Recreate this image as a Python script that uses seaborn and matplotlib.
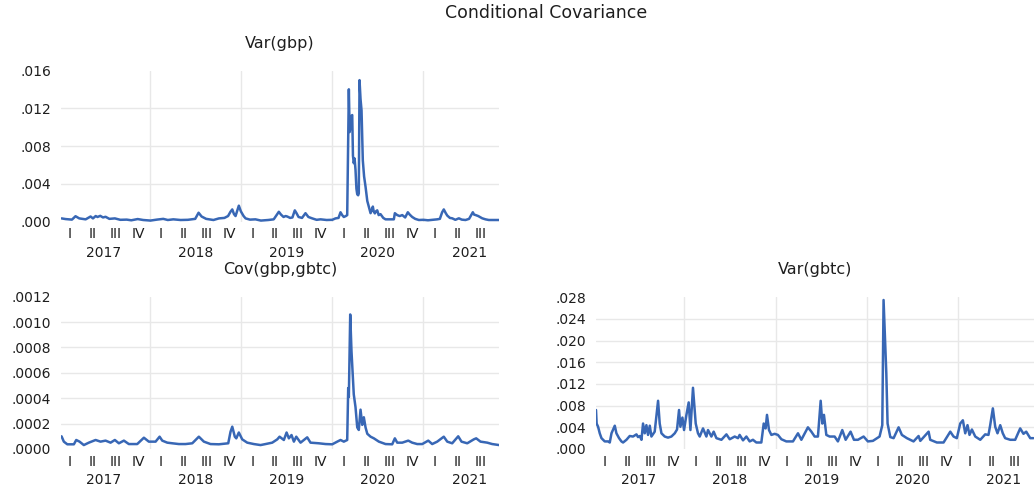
import matplotlib
matplotlib.use("Agg")
import matplotlib.pyplot as plt
import pandas as pd
import seaborn as sns

# ---------------- data ----------------
gbp_t = [2017.036, 2017.08, 2017.15, 2017.189, 2017.23, 2017.30, 2017.354, 2017.38, 2017.41, 2017.43,
         2017.46, 2017.49, 2017.518, 2017.56, 2017.62, 2017.68, 2017.75, 2017.80, 2017.87, 2017.93,
         2018.01, 2018.08, 2018.15, 2018.20, 2018.26, 2018.34, 2018.42, 2018.50, 2018.537, 2018.57,
         2018.62, 2018.70, 2018.76, 2018.82, 2018.86, 2018.887, 2018.906, 2018.925, 2018.942, 2018.978,
         2019.00, 2019.03, 2019.052, 2019.10, 2019.16, 2019.22, 2019.30, 2019.36, 2019.416, 2019.44,
         2019.468, 2019.49, 2019.508, 2019.54, 2019.565, 2019.591, 2019.61, 2019.632, 2019.67, 2019.708,
         2019.74, 2019.782, 2019.83, 2019.873, 2019.94, 2020.001, 2020.037, 2020.07, 2020.092, 2020.11,
         2020.128, 2020.15, 2020.165, 2020.183, 2020.192, 2020.201, 2020.210, 2020.220, 2020.228, 2020.237,
         2020.246, 2020.256, 2020.266, 2020.275, 2020.285, 2020.292, 2020.300, 2020.311, 2020.322, 2020.336,
         2020.350, 2020.366, 2020.385, 2020.402, 2020.421, 2020.435, 2020.446, 2020.455, 2020.468, 2020.480,
         2020.494, 2020.510, 2020.530, 2020.560, 2020.585, 2020.64, 2020.676, 2020.687, 2020.713, 2020.74,
         2020.768, 2020.80, 2020.829, 2020.85, 2020.877, 2020.91, 2020.950, 2021.00, 2021.05, 2021.10,
         2021.151, 2021.18, 2021.205, 2021.223, 2021.245, 2021.261, 2021.29, 2021.315, 2021.35, 2021.388,
         2021.42, 2021.461, 2021.50, 2021.541, 2021.555, 2021.570, 2021.60, 2021.644, 2021.68, 2021.716,
         2021.77, 2021.829]
gbp_v = [0.00035, 0.00028, 0.00022, 0.00058, 0.00035, 0.00025, 0.00055, 0.00035, 0.00060, 0.00050,
         0.00062, 0.00045, 0.00052, 0.00030, 0.00035, 0.00020, 0.00022, 0.00015, 0.00028, 0.00018,
         0.00012, 0.00022, 0.00030, 0.00018, 0.00025, 0.00018, 0.00020, 0.00030, 0.00095, 0.00055,
         0.00030, 0.00018, 0.00035, 0.00040, 0.00060, 0.00106, 0.00130, 0.00080, 0.00060, 0.00170,
         0.00110, 0.00060, 0.00035, 0.00022, 0.00025, 0.00012, 0.00018, 0.00025, 0.00105, 0.00075,
         0.00050, 0.00060, 0.00055, 0.00040, 0.00045, 0.00120, 0.00090, 0.00050, 0.00040, 0.00090,
         0.00050, 0.00035, 0.00020, 0.00025, 0.00018, 0.00020, 0.00035, 0.00040, 0.00100, 0.00070,
         0.00050, 0.00060, 0.00070, 0.01403, 0.00950, 0.01010, 0.01120, 0.01130, 0.00700, 0.00620,
         0.00670, 0.00550, 0.00350, 0.00290, 0.00280, 0.00300, 0.01500, 0.01300, 0.01180, 0.00650,
         0.00480, 0.00370, 0.00220, 0.00160, 0.00090, 0.00130, 0.00160, 0.00110, 0.00088, 0.00110,
         0.00120, 0.00070, 0.00080, 0.00040, 0.00025, 0.00025, 0.00025, 0.00090, 0.00070, 0.00060,
         0.00070, 0.00045, 0.00100, 0.00075, 0.00050, 0.00030, 0.00018, 0.00020, 0.00015, 0.00020,
         0.00025, 0.00030, 0.00100, 0.00130, 0.00090, 0.00065, 0.00040, 0.00036, 0.00020, 0.00036,
         0.00022, 0.00018, 0.00030, 0.00100, 0.00075, 0.00071, 0.00060, 0.00036, 0.00025, 0.00018,
         0.00018, 0.00018]

cov_t = [2017.036, 2017.061, 2017.099, 2017.171, 2017.197, 2017.233, 2017.280, 2017.335, 2017.409, 2017.463,
         2017.518, 2017.573, 2017.620, 2017.664, 2017.719, 2017.773, 2017.865, 2017.938, 2017.992, 2018.066,
         2018.110, 2018.139, 2018.194, 2018.249, 2018.321, 2018.394, 2018.468, 2018.540, 2018.595, 2018.668,
         2018.759, 2018.862, 2018.887, 2018.906, 2018.934, 2018.950, 2018.978, 2019.015, 2019.070, 2019.142,
         2019.216, 2019.271, 2019.344, 2019.399, 2019.424, 2019.471, 2019.501, 2019.526, 2019.555, 2019.581,
         2019.607, 2019.654, 2019.727, 2019.763, 2019.854, 2019.928, 2020.001, 2020.056, 2020.092, 2020.128,
         2020.165, 2020.176, 2020.183, 2020.198, 2020.212, 2020.237, 2020.256, 2020.275, 2020.292, 2020.311,
         2020.330, 2020.347, 2020.366, 2020.385, 2020.421, 2020.457, 2020.512, 2020.585, 2020.658, 2020.687,
         2020.713, 2020.768, 2020.834, 2020.877, 2020.932, 2020.987, 2021.053, 2021.096, 2021.151, 2021.223,
         2021.261, 2021.315, 2021.381, 2021.417, 2021.480, 2021.552, 2021.578, 2021.625, 2021.699, 2021.753,
         2021.829]
cov_v = [0.000100, 0.000058, 0.000037, 0.000037, 0.000071, 0.000058, 0.000031, 0.000050, 0.000071, 0.000058,
         0.000066, 0.000050, 0.000071, 0.000045, 0.000066, 0.000039, 0.000039, 0.000089, 0.000058, 0.000058,
         0.000097, 0.000066, 0.000050, 0.000045, 0.000039, 0.000039, 0.000045, 0.000097, 0.000058, 0.000039,
         0.000037, 0.000045, 0.000136, 0.000176, 0.000097, 0.000084, 0.000130, 0.000076, 0.000050, 0.000039,
         0.000031, 0.000039, 0.000050, 0.000076, 0.000097, 0.000071, 0.000130, 0.000084, 0.000110, 0.000058,
         0.000097, 0.000050, 0.000092, 0.000050, 0.000045, 0.000039, 0.000037, 0.000058, 0.000071, 0.000058,
         0.000071, 0.000480, 0.000410, 0.001060, 0.000770, 0.000430, 0.000330, 0.000170, 0.000150, 0.000310,
         0.000190, 0.000250, 0.000170, 0.000120, 0.000097, 0.000084, 0.000058, 0.000039, 0.000037, 0.000084,
         0.000050, 0.000050, 0.000066, 0.000050, 0.000039, 0.000039, 0.000066, 0.000039, 0.000058, 0.000097,
         0.000058, 0.000045, 0.000100, 0.000058, 0.000045, 0.000076, 0.000084, 0.000058, 0.000050, 0.000039,
         0.000031]

gbtc_t = [2017.030, 2017.037, 2017.053, 2017.071, 2017.090, 2017.126, 2017.162, 2017.181, 2017.200, 2017.236,
          2017.254, 2017.283, 2017.309, 2017.327, 2017.364, 2017.400, 2017.436, 2017.474, 2017.491, 2017.510,
          2017.529, 2017.546, 2017.565, 2017.583, 2017.601, 2017.620, 2017.638, 2017.674, 2017.711, 2017.729,
          2017.748, 2017.784, 2017.820, 2017.857, 2017.894, 2017.919, 2017.941, 2017.956, 2017.978, 2017.996,
          2018.022, 2018.047, 2018.066, 2018.094, 2018.124, 2018.149, 2018.168, 2018.204, 2018.241, 2018.259,
          2018.296, 2018.321, 2018.351, 2018.406, 2018.461, 2018.497, 2018.552, 2018.588, 2018.606, 2018.643,
          2018.680, 2018.716, 2018.752, 2018.789, 2018.844, 2018.870, 2018.891, 2018.906, 2018.928, 2018.954,
          2018.990, 2019.026, 2019.064, 2019.118, 2019.191, 2019.246, 2019.283, 2019.355, 2019.393, 2019.429,
          2019.465, 2019.495, 2019.513, 2019.531, 2019.557, 2019.593, 2019.648, 2019.684, 2019.732, 2019.769,
          2019.823, 2019.860, 2019.904, 2019.966, 2020.013, 2020.068, 2020.141, 2020.171, 2020.185, 2020.215,
          2020.229, 2020.259, 2020.295, 2020.350, 2020.386, 2020.441, 2020.514, 2020.569, 2020.588, 2020.679,
          2020.697, 2020.770, 2020.843, 2020.917, 2020.953, 2020.989, 2021.026, 2021.055, 2021.081, 2021.106,
          2021.128, 2021.154, 2021.191, 2021.246, 2021.300, 2021.336, 2021.355, 2021.384, 2021.410, 2021.435,
          2021.465, 2021.493, 2021.519, 2021.575, 2021.629, 2021.684, 2021.720, 2021.750, 2021.794, 2021.829]
gbtc_v = [0.0072, 0.0047, 0.0041, 0.0029, 0.0020, 0.0014, 0.0014, 0.0012, 0.0029, 0.0043,
          0.0029, 0.0020, 0.0014, 0.0012, 0.0017, 0.0024, 0.0023, 0.0027, 0.0022, 0.0024,
          0.0017, 0.0047, 0.0029, 0.0044, 0.0026, 0.0043, 0.0023, 0.0032, 0.0089, 0.0047,
          0.0029, 0.0023, 0.0021, 0.0023, 0.0029, 0.0036, 0.0072, 0.0041, 0.0058, 0.0035,
          0.0063, 0.0086, 0.0035, 0.0113, 0.0047, 0.0029, 0.0023, 0.0038, 0.0023, 0.0035,
          0.0023, 0.0032, 0.0020, 0.0017, 0.0027, 0.0018, 0.0023, 0.0020, 0.0026, 0.0016,
          0.0023, 0.0014, 0.0017, 0.0012, 0.0012, 0.0047, 0.0038, 0.0063, 0.0035, 0.0026,
          0.0028, 0.0026, 0.0018, 0.0014, 0.0014, 0.0029, 0.0017, 0.0040, 0.0032, 0.0023,
          0.0023, 0.0089, 0.0047, 0.0063, 0.0026, 0.0023, 0.0023, 0.0014, 0.0035, 0.0017,
          0.0032, 0.0017, 0.0017, 0.0023, 0.0014, 0.0015, 0.0023, 0.0044, 0.0275, 0.0140,
          0.0047, 0.0022, 0.0020, 0.0040, 0.0026, 0.0020, 0.0014, 0.0024, 0.0015, 0.0032,
          0.0017, 0.0012, 0.0012, 0.0032, 0.0023, 0.0020, 0.0047, 0.0053, 0.0029, 0.0044,
          0.0026, 0.0036, 0.0023, 0.0017, 0.0027, 0.0026, 0.0044, 0.0075, 0.0041, 0.0029,
          0.0044, 0.0029, 0.0020, 0.0017, 0.0017, 0.0038, 0.0028, 0.0032, 0.0020, 0.0020]

gbp_yticks = [0.000, 0.004, 0.008, 0.012, 0.016]
cov_yticks = [0.0000, 0.0002, 0.0004, 0.0006, 0.0008, 0.0010, 0.0012]
gbtc_yticks = [0.000, 0.004, 0.008, 0.012, 0.016, 0.020, 0.024, 0.028]
years = [2017, 2018, 2019, 2020, 2021]
quarters = ["I", "II", "III", "IV"]
titles = ["Var(gbp)", "Cov(gbp,gbtc)", "Var(gbtc)"]
suptitle = "Conditional Covariance"
x_start, x_end = 2017.03, 2021.83

# ---------------- style ----------------
sns.set_style("white")
plt.rcParams["font.family"] = ["DejaVu Sans"]
LINE = "#3867b5"
GRID = "#e8e8e8"
TXT = "#1e1e1e"
W, H = 1034, 488

fig = plt.figure(figsize=(W / 100, H / 100), dpi=100)
fig.patch.set_facecolor("white")


def px_rect(left, right, top, bottom):
    return [left / W, 1 - bottom / H, (right - left) / W, (bottom - top) / H]


def panel(rect_px, t, v, yticks, decimals, title):
    left, right, top, bottom = rect_px
    ax = fig.add_axes(px_rect(left, right, top, bottom))
    df = pd.DataFrame({"t": t, "v": v})
    sns.lineplot(data=df, x="t", y="v", ax=ax, color=LINE, linewidth=1.8, zorder=3)
    ax.set_xlim(x_start, x_end)
    ax.set_ylim(yticks[0], yticks[-1])
    ax.set_yticks(yticks)
    ax.set_yticklabels([("{:.%df}" % decimals).format(y).lstrip("0") for y in yticks])
    ax.set_xticks([])
    ax.set_xlabel("")
    ax.set_ylabel("")
    ax.tick_params(axis="y", length=0, labelsize=10, pad=7, colors=TXT)
    for s in ax.spines.values():
        s.set_visible(False)
    for yv in yticks[1:-1]:
        ax.axhline(yv, color=GRID, linewidth=1.0, zorder=1)
    for yr in years:
        if x_start < yr < x_end:
            ax.axvline(yr, color=GRID, linewidth=1.0, zorder=1)
    for yr in years:
        for qi, q in enumerate(quarters):
            xq = yr + (qi + 0.5) / 4
            if x_start < xq < x_end:
                ax.annotate(q, xy=(xq, 0), xycoords=("data", "axes fraction"),
                            xytext=(0, -9.2), textcoords="offset points",
                            ha="center", va="center", fontsize=10, color=TXT)
        ax.annotate(str(yr), xy=(yr + 0.5, 0), xycoords=("data", "axes fraction"),
                    xytext=(0, -22.3), textcoords="offset points",
                    ha="center", va="center", fontsize=10, color=TXT)
    hpx = bottom - top
    ax.text(0.5, 1 + 27.5 / hpx, title, transform=ax.transAxes,
            ha="center", va="center", fontsize=11.5, color=TXT)
    return ax


panel((61, 499.2, 70.7, 221.7), gbp_t, gbp_v, gbp_yticks, 3, titles[0])
panel((61, 499.2, 296.7, 449), cov_t, cov_v, cov_yticks, 4, titles[1])
panel((596, 1033.5, 297.3, 449), gbtc_t, gbtc_v, gbtc_yticks, 3, titles[2])

fig.text(546 / W, 1 - 12.5 / H, suptitle, ha="center", va="center", fontsize=12.5, color=TXT)

fig.savefig("out.png", dpi=100, facecolor="white")
